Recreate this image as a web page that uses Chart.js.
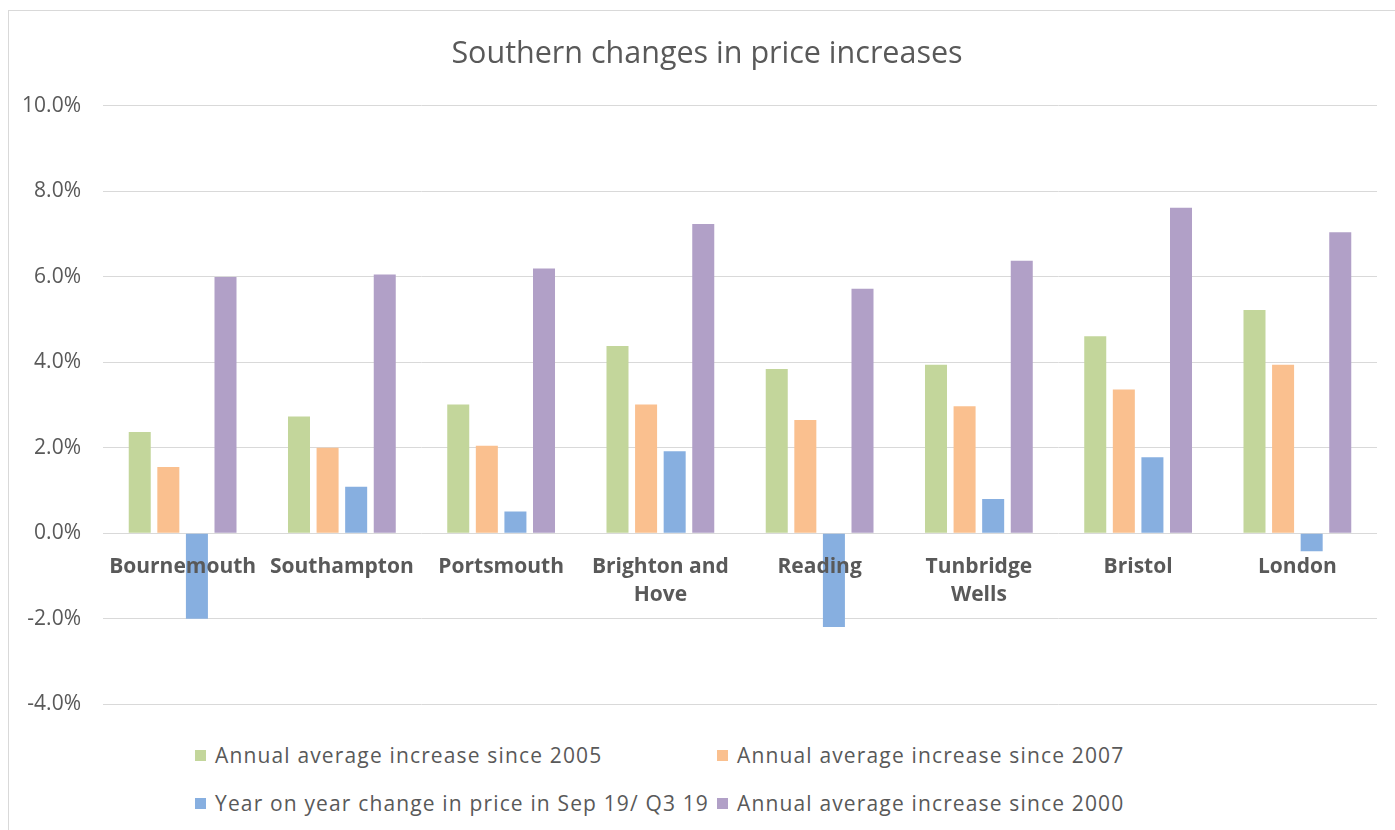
<!DOCTYPE html>
<html>
<head>
<meta charset="utf-8">
<title>Southern changes in price increases</title>
<script src="https://cdn.jsdelivr.net/npm/chart.js@4.4.1/dist/chart.umd.min.js"></script>
<style>
  html, body { margin: 0; padding: 0; background: #fff; overflow: hidden; }
  .frame {
    position: absolute; left: 8px; top: 10px;
    width: 1400px; height: 840px;
    border: 1px solid #d9d9d9; box-sizing: border-box;
    font-family: "Open Sans", sans-serif; color: #595959;
  }
  .plot { position: absolute; left: 0; top: 0; width: 1386px; height: 728px; }
  #legend {
    position: absolute; left: 186px; top: 731px;
    display: grid; grid-template-columns: 522px auto; row-gap: 22px;
    font-size: 21px; letter-spacing: 1.15px;
  }
  #legend .item { display: flex; align-items: center; height: 26px; white-space: nowrap; }
  #legend .swatch { width: 11px; height: 11px; margin-right: 9px; flex: none; }
</style>
</head>
<body>
<div class="frame">
  <div class="plot"><canvas id="priceChart"></canvas></div>
  <div id="legend"></div>
</div>
<script>
// towns along the x axis (arrays wrap onto two lines)
const towns = ['Bournemouth', 'Southampton', 'Portsmouth', ['Brighton and', 'Hove'],
               'Reading', ['Tunbridge', 'Wells'], 'Bristol', 'London'];

// percentages per town
const since2005 = [2.37, 2.73, 3.01, 4.38, 3.84, 3.94, 4.61, 5.22];
const since2007 = [1.55, 2.00, 2.05, 3.01, 2.65, 2.97, 3.36, 3.94];
const yoySep19  = [-2.00, 1.09, 0.51, 1.92, -2.19, 0.80, 1.78, -0.42];
const since2000 = [5.99, 6.05, 6.19, 7.23, 5.72, 6.37, 7.61, 7.04];

const yMin = -4, yMax = 10, yStep = 2;

const TEXT = '#595959';
const GRID = '#d9d9d9';

// legend drawn as html so it can sit in two aligned columns
const htmlLegend = {
    id: 'htmlLegend',
    afterUpdate(chart) {
        const box = document.getElementById('legend');
        box.innerHTML = '';
        chart.data.datasets.forEach(ds => {
            const item = document.createElement('div');
            item.className = 'item';
            const sw = document.createElement('span');
            sw.className = 'swatch';
            sw.style.background = ds.backgroundColor;
            item.appendChild(sw);
            item.appendChild(document.createTextNode(ds.label));
            box.appendChild(item);
        });
    }
};

// left padding keeps the title centred on the whole frame; let the y labels
// draw into that padding instead of being clipped at the scale's edge
const yLabelRoom = {
    id: 'yLabelRoom',
    afterLayout(chart) { chart.scales.y.left = 0; }
};

const bar = (label, data, color) => ({
    label: label, data: data, backgroundColor: color,
    categoryPercentage: 0.718, barPercentage: 0.77
});

new Chart(document.getElementById('priceChart'), {
    type: 'bar',
    data: {
        labels: towns,
        datasets: [
            bar('Annual average increase since 2005', since2005, '#c3d69b'),
            bar('Annual average increase since 2007', since2007, '#fac08f'),
            bar('Year on year change in price in Sep 19/ Q3 19', yoySep19, '#87afe0'),
            bar('Annual average increase since 2000', since2000, '#b1a0c7')
        ]
    },
    plugins: [htmlLegend, yLabelRoom],
    options: {
        responsive: true,
        maintainAspectRatio: false,
        animation: false,
        layout: { padding: { left: 28, right: 18, top: 0, bottom: 0 } },
        plugins: {
            legend: { display: false },
            tooltip: { enabled: false },
            title: {
                display: true,
                text: 'Southern changes in price increases',
                color: TEXT,
                font: { family: 'Open Sans', size: 30.5, weight: 'normal', lineHeight: 1.2 },
                padding: { top: 25, bottom: 33 }
            }
        },
        scales: {
            x: {
                position: { y: 0 },
                grid: { display: false },
                border: { display: false },
                ticks: {
                    z: 1,   // town names sit on top of the negative bars
                    color: TEXT,
                    font: { family: 'Open Sans', size: 21, weight: 'bold', lineHeight: 1.33 },
                    padding: 12,
                    maxRotation: 0,
                    autoSkip: false
                }
            },
            y: {
                min: yMin,
                max: yMax,
                afterFit: s => { s.width = 66; },
                grid: { color: GRID, drawTicks: false },
                border: { display: false },
                ticks: {
                    stepSize: yStep,
                    padding: 22,
                    color: TEXT,
                    font: { family: 'Open Sans', size: 21 },
                    callback: v => v.toFixed(1) + '%'
                }
            }
        }
    }
});
</script>
</body>
</html>
